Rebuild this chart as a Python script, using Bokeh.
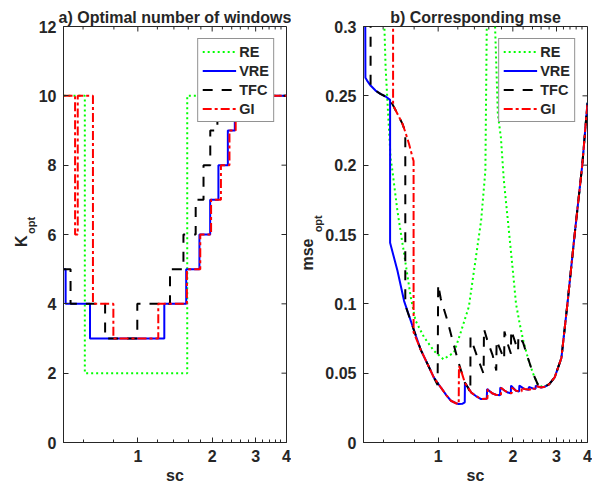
import math
from bokeh.plotting import figure
from bokeh.layouts import row
from bokeh.models import (Range1d, FixedTicker, Title, CustomJSTickFormatter)
from bokeh.embed import file_html
from bokeh.resources import INLINE

# ---------------- data ----------------
SC_TICKS = [1, 2, 3, 4]
SC_MINOR = [0.6, 0.8, 1.2, 1.4, 1.6, 1.8, 2.2, 2.4, 2.6, 2.8, 3.2, 3.4, 3.6, 3.8]
K_TICKS = [0, 2, 4, 6, 8, 10, 12]
MSE_TICKS = [0, 0.05, 0.1, 0.15, 0.2, 0.25, 0.3]

# panel a) optimal number of windows (step functions)
RE_K_sc = [0.5, 0.61, 1.585, 4.0]
RE_K = [10, 2, 10, 10]
VRE_K_sc = [0.5, 0.51, 0.64, 1.28, 1.57, 1.776, 1.963, 2.12, 2.315, 2.47, 4.0]
VRE_K = [5, 4, 3, 4, 5, 6, 7, 8, 9, 10, 10]
TFC_K_sc = [0.5, 0.534, 0.737, 0.995, 1.35, 1.53, 1.715, 1.845, 1.965, 2.10, 4.0]
TFC_K = [5, 4, 3, 4, 5, 6, 7, 8, 9, 10, 10]
GI_K_sc = [0.5, 0.557, 0.571, 0.658, 0.796, 1.21, 1.58, 1.79, 1.98, 2.17, 2.35, 2.49, 4.0]
GI_K = [10, 6, 10, 4, 3, 4, 5, 6, 7, 8, 9, 10, 10]

# panel b) corresponding mse
RE_sc = [0.605, 0.607, 0.614, 0.624, 0.643, 0.654, 0.685, 0.729, 0.775, 0.81, 0.878,
         0.963, 1.05, 1.16, 1.236, 1.33, 1.40, 1.49, 1.55, 1.57, 1.575, 1.69, 1.696,
         1.74, 1.79, 1.84, 1.91, 2.0, 2.06, 2.13, 2.2, 2.3, 2.41, 2.52, 2.64, 2.8,
         2.95, 3.14, 3.32, 3.55, 3.81, 4.0]
RE_mse = [0.32, 0.30, 0.27, 0.247, 0.205, 0.196, 0.167, 0.136, 0.105, 0.088, 0.0758,
          0.066, 0.060, 0.065, 0.080, 0.098, 0.126, 0.16, 0.196, 0.30, 0.33, 0.33, 0.30,
          0.237, 0.22, 0.189, 0.16, 0.124, 0.10, 0.086, 0.074, 0.061, 0.050, 0.042, 0.0398, 0.042,
          0.047, 0.061, 0.10, 0.15, 0.20, 0.245]

VRE_sc = [0.508, 0.509, 0.517, 0.534, 0.559, 0.585, 0.614, 0.64, 0.64, 0.685, 0.729,
          0.80, 0.85, 0.906, 0.96, 1.025, 1.08, 1.126, 1.18, 1.21, 1.25, 1.28, 1.282,
          1.315, 1.36, 1.42, 1.49, 1.57, 1.575, 1.65, 1.71, 1.776, 1.78, 1.85, 1.91,
          1.963, 1.967, 2.06, 2.12, 2.125, 2.23, 2.315, 2.32, 2.41, 2.47, 2.475, 2.6,
          2.69, 2.8, 2.95, 3.14, 3.32, 3.55, 3.81, 4.0]
VRE_mse = [0.32, 0.263, 0.261, 0.2574, 0.2538, 0.2514, 0.2495, 0.2471, 0.144, 0.124, 0.102,
           0.0806, 0.067, 0.0566, 0.047, 0.0397, 0.034, 0.0301, 0.0283, 0.0277, 0.0279, 0.029, 0.043,
           0.040, 0.036, 0.0335, 0.0313, 0.0315, 0.0385, 0.0355, 0.0344, 0.034, 0.0397, 0.0375, 0.036,
           0.0355, 0.041, 0.0373, 0.0368, 0.041, 0.0385, 0.038, 0.040, 0.039, 0.0388, 0.041, 0.0397,
           0.0402, 0.042, 0.047, 0.061, 0.10, 0.15, 0.20, 0.245]

TFC_sc = [0.534, 0.534, 0.559, 0.585, 0.614, 0.64, 0.664, 0.69, 0.718, 0.737, 0.737,
          0.80, 0.85, 0.906, 0.96, 0.995, 1.0, 1.025, 1.09, 1.144, 1.198, 1.236, 1.282,
          1.315, 1.348, 1.35, 1.44, 1.525, 1.53, 1.58, 1.66, 1.715, 1.72, 1.78, 1.845,
          1.85, 1.90, 1.965, 1.97, 2.03, 2.10, 2.105, 2.2, 2.3, 2.41, 2.52, 2.64, 2.8,
          2.95, 3.14, 3.32, 3.55, 3.81, 4.0]
TFC_mse = [0.32, 0.2574, 0.2538, 0.2514, 0.2495, 0.2471, 0.2418, 0.236, 0.2298, 0.224, 0.099,
           0.0806, 0.067, 0.0566, 0.047, 0.0415, 0.114, 0.1035, 0.0878, 0.0734, 0.060, 0.052, 0.043,
           0.040, 0.036, 0.0758, 0.0613, 0.0495, 0.0818, 0.0734, 0.0626, 0.052, 0.0735, 0.067, 0.060,
           0.080, 0.072, 0.064, 0.081, 0.074, 0.066, 0.077, 0.072, 0.061, 0.050, 0.042, 0.0398, 0.042,
           0.047, 0.061, 0.10, 0.15, 0.20, 0.245]

GI_sc = [0.658, 0.658, 0.664, 0.69, 0.718, 0.737, 0.763, 0.788, 0.796, 0.796, 0.85,
         0.906, 0.96, 1.025, 1.08, 1.126, 1.18, 1.21, 1.213, 1.236, 1.282, 1.315, 1.36,
         1.42, 1.49, 1.58, 1.585, 1.65, 1.71, 1.79, 1.795, 1.85, 1.91, 1.98, 1.985,
         2.06, 2.17, 2.175, 2.23, 2.35, 2.355, 2.41, 2.49, 2.495, 2.6, 2.69, 2.8,
         2.95, 3.14, 3.32, 3.55, 3.81, 4.0]
GI_mse = [0.32, 0.245, 0.2418, 0.236, 0.2298, 0.224, 0.2153, 0.2057, 0.203, 0.0795, 0.067,
          0.0566, 0.047, 0.0397, 0.034, 0.0301, 0.0283, 0.0277, 0.055, 0.052, 0.043, 0.040, 0.036,
          0.0335, 0.0313, 0.0318, 0.0385, 0.0355, 0.0344, 0.034, 0.0395, 0.0375, 0.036, 0.0355, 0.0395,
          0.0373, 0.0368, 0.040, 0.0385, 0.038, 0.0395, 0.039, 0.0388, 0.0405, 0.0397, 0.0402, 0.042,
          0.047, 0.061, 0.10, 0.15, 0.20, 0.245]

NAMES = ["RE", "VRE", "TFC", "GI"]
COLORS = ["#00ff00", "#0000ff", "#000000", "#ff0000"]
DASHES = ["2 3", "solid", "10 9", "9 3 3 3"]

FONT = "Liberation Sans"
TXT = "#262626"
AXC = "#262626"
NB = "\u00a0"

fmt = CustomJSTickFormatter(code="return String(Math.round(tick*1000)/1000);")


def make_fig(title, yr, yticks, left_border, fw):
    xr = Range1d(0.5, 4.0)
    p = figure(x_axis_type="log", x_range=xr, y_range=yr,
               frame_width=fw, frame_height=416, output_backend="svg",
               toolbar_location=None, min_border_left=left_border,
               min_border_right=5, min_border_top=26, min_border_bottom=4)
    p.title.text = title
    p.title.align = "center"
    p.title.vertical_align = "middle"
    p.title.text_font = FONT
    p.title.text_font_size = "16px"
    p.title.text_font_style = "bold"
    p.title.text_color = TXT
    p.title.standoff = 0
    p.grid.visible = False
    p.outline_line_color = AXC
    p.background_fill_color = "white"
    p.border_fill_color = "white"

    xt = FixedTicker(ticks=SC_TICKS, minor_ticks=SC_MINOR)
    yt = FixedTicker(ticks=yticks)
    p.xaxis.ticker = xt
    p.yaxis.ticker = yt
    for ax in p.xaxis + p.yaxis:
        ax.formatter = fmt
        ax.major_label_text_font = FONT
        ax.major_label_text_font_style = "bold"
        ax.major_label_text_font_size = "16px"
        ax.major_label_text_color = TXT
        ax.axis_line_color = AXC
        ax.major_tick_line_color = AXC
        ax.minor_tick_line_color = AXC
        ax.major_tick_in = 5
        ax.major_tick_out = 0
        ax.minor_tick_in = 3
        ax.minor_tick_out = 0
    p.xaxis.major_label_standoff = 7
    p.yaxis.major_label_standoff = 7
    p.xaxis.axis_label = "sc"
    p.xaxis.axis_label_text_font = FONT
    p.xaxis.axis_label_text_font_style = "bold"
    p.xaxis.axis_label_text_font_size = "16px"
    p.xaxis.axis_label_text_color = TXT
    p.xaxis.axis_label_standoff = 2

    # mirrored ticks on the top and right edges of the box
    p.ray(x=SC_TICKS, y=[yr.end] * len(SC_TICKS), length=5, length_units="screen",
          angle=-math.pi / 2, line_color=AXC, line_width=1)
    p.ray(x=SC_MINOR, y=[yr.end] * len(SC_MINOR), length=3, length_units="screen",
          angle=-math.pi / 2, line_color=AXC, line_width=1)
    p.ray(x=[xr.end] * len(yticks), y=yticks, length=5, length_units="screen",
          angle=math.pi, line_color=AXC, line_width=1)
    return p


def style_legend(p):
    lg = p.legend[0]
    lg.location = "top_right"
    lg.margin = 12
    lg.padding = 4
    lg.spacing = 2
    lg.glyph_width = 34
    lg.glyph_height = 17
    lg.label_height = 17
    lg.label_standoff = 3
    lg.label_text_font = FONT
    lg.label_text_font_style = "bold"
    lg.label_text_font_size = "14.5px"
    lg.label_text_color = TXT
    lg.border_line_color = AXC
    lg.border_line_width = 1
    lg.background_fill_alpha = 1.0


def ylabel(p, main, sub, n_after_main, n_before_sub, main_standoff):
    # subscript first: panels stack outward from the frame
    p.add_layout(Title(text=NB * n_before_sub + sub, align="center", standoff=-3,
                       text_font=FONT, text_font_style="bold", text_font_size="11px",
                       text_color=TXT), "left")
    p.add_layout(Title(text=main + NB * n_after_main, align="center", standoff=main_standoff,
                       text_font=FONT, text_font_style="bold", text_font_size="16px",
                       text_color=TXT), "left")


# ---- panel a
yr1 = Range1d(0, 12)
p1 = make_fig("a) Optimal number of windows", yr1, K_TICKS, 63, 223)
for name, xs, ys, c, d in zip(NAMES, [RE_K_sc, VRE_K_sc, TFC_K_sc, GI_K_sc],
                              [RE_K, VRE_K, TFC_K, GI_K], COLORS, DASHES):
    p1.step(xs, ys, mode="after", line_color=c, line_dash=d, line_width=2,
            legend_label=name)
style_legend(p1)
ylabel(p1, "K", "opt", 3, 6, -11)

# ---- panel b
yr2 = Range1d(0, 0.3)
p2 = make_fig("b) Corresponding mse", yr2, MSE_TICKS, 72, 224)
for name, xs, ys, c, d in zip(NAMES, [RE_sc, VRE_sc, TFC_sc, GI_sc],
                              [RE_mse, VRE_mse, TFC_mse, GI_mse], COLORS, DASHES):
    p2.line(xs, ys, line_color=c, line_dash=d, line_width=2, legend_label=name)
style_legend(p2)
ylabel(p2, "mse", "opt", 9, 7, -8)

layout = row(p1, p2, spacing=0)
open("out.html", "w").write(file_html(layout, INLINE))
